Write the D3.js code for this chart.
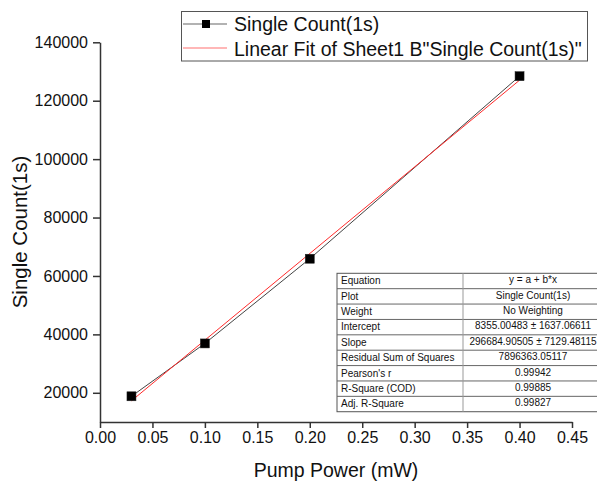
<!DOCTYPE html>
<html>
<head>
<meta charset="utf-8">
<script src="https://cdn.jsdelivr.net/npm/d3@7"></script>
<style>
  html, body { margin: 0; padding: 0; background: #fff; }
  svg { display: block; font-family: "Liberation Sans", Arial, sans-serif; }
</style>
</head>
<body>
<svg id="chart" width="597" height="482"></svg>
<script>
// ---- data ----
const pumpPower = [0.03, 0.10, 0.20, 0.40];
const singleCount = [18800, 36900, 65900, 128400];
const fitIntercept = 8355.00483;
const fitSlope = 296684.90505;
const xTicks = [0, 0.05, 0.10, 0.15, 0.20, 0.25, 0.30, 0.35, 0.40, 0.45];
const yTicks = [20000, 40000, 60000, 80000, 100000, 120000, 140000];
const legendLabels = ["Single Count(1s)", "Linear Fit of Sheet1 B\"Single Count(1s)\""];
const tableLabels = ["Equation", "Plot", "Weight", "Intercept", "Slope", "Residual Sum of Squares", "Pearson's r", "R-Square (COD)", "Adj. R-Square"];
const tableValues = ["y = a + b*x", "Single Count(1s)", "No Weighting", "8355.00483 \u00b1 1637.06611", "296684.90505 \u00b1 7129.48115", "7896363.05117", "0.99942", "0.99885", "0.99827"];

const svg = d3.select("#chart");
const x = d3.scaleLinear().domain([0, 0.45]).range([100, 572]);
const y = d3.scaleLinear().domain([10000, 140000]).range([422, 42.3]);
const axisColor = "#333";

// minor ticks
const xMinor = d3.range(0, 19).map(i => i * 0.025);
const yMinor = d3.range(0, 14).map(i => 10000 + i * 10000);

const gx = svg.append("g").attr("transform", "translate(0,422)");
gx.call(d3.axisBottom(x).tickValues(xMinor).tickSize(3.5).tickFormat("")).call(g => g.select(".domain").remove());
gx.call(d3.axisBottom(x).tickValues(xTicks).tickSize(6).tickSizeOuter(0).tickPadding(4).tickFormat(d3.format(".2f")));
gx.selectAll("line, path").attr("stroke", axisColor).attr("stroke-width", 1.5);
gx.selectAll("text").attr("font-size", 16).attr("fill", "#111").attr("font-family", "Liberation Sans, Arial, sans-serif");

const gy = svg.append("g").attr("transform", "translate(100,0)");
gy.call(d3.axisLeft(y).tickValues(yMinor).tickSize(3.5).tickFormat("")).call(g => g.select(".domain").remove());
gy.call(d3.axisLeft(y).tickValues(yTicks).tickSize(7).tickSizeOuter(0).tickPadding(5).tickFormat(d3.format("d")));
gy.selectAll("line, path").attr("stroke", axisColor).attr("stroke-width", 1.5);
gy.selectAll("text").attr("font-size", 16).attr("fill", "#111").attr("font-family", "Liberation Sans, Arial, sans-serif");

// axis titles
svg.append("text").attr("x", 336).attr("y", 477).attr("text-anchor", "middle")
  .attr("font-size", 19.5).attr("fill", "#111").text("Pump Power (mW)");
svg.append("text").attr("transform", "translate(27,232) rotate(-90)").attr("text-anchor", "middle")
  .attr("font-size", 20.5).attr("fill", "#111").text("Single Count(1s)");

// data line
const pts = pumpPower.map((p, i) => [p, singleCount[i]]);
svg.append("path").datum(pts)
  .attr("d", d3.line().x(d => x(d[0])).y(d => y(d[1])))
  .attr("fill", "none").attr("stroke", "#444").attr("stroke-width", 1);

// fit line
const xf = d3.extent(pumpPower);
const fitPts = xf.map(v => [v, fitIntercept + fitSlope * v]);
svg.append("path").datum(fitPts)
  .attr("d", d3.line().x(d => x(d[0])).y(d => y(d[1])))
  .attr("fill", "none").attr("stroke", "#ff2a2a").attr("stroke-width", 1);

// markers
svg.selectAll("rect.pt").data(pts).enter().append("rect").attr("class", "pt")
  .attr("x", d => x(d[0]) - 4.5).attr("y", d => y(d[1]) - 4.5)
  .attr("width", 9).attr("height", 9).attr("fill", "#000").attr("stroke", "#222").attr("stroke-width", 0.5);

// legend
const lg = svg.append("g");
lg.append("rect").attr("x", 181.5).attr("y", 11.5).attr("width", 406).attr("height", 49.5)
  .attr("fill", "#fff").attr("stroke", "#555").attr("stroke-width", 1);
lg.append("line").attr("x1", 183).attr("x2", 227).attr("y1", 24).attr("y2", 24).attr("stroke", "#999").attr("stroke-width", 1.5);
lg.append("rect").attr("x", 202).attr("y", 20).attr("width", 8).attr("height", 8).attr("fill", "#000");
lg.append("line").attr("x1", 183).attr("x2", 227).attr("y1", 48).attr("y2", 48).attr("stroke", "#ff7070").attr("stroke-width", 1.2);
legendLabels.forEach((t, i) => {
  lg.append("text").attr("x", 234).attr("y", 31 + i * 25).attr("font-size", 19.5).attr("fill", "#111").text(t);
});

// stats table
const tx0 = 337, tx1 = 463, tx2 = 603, ty0 = 273.3, rh = 15.38;
const tg = svg.append("g");
tg.append("rect").attr("x", tx0).attr("y", ty0).attr("width", tx2 - tx0).attr("height", rh * tableLabels.length)
  .attr("fill", "#fff").attr("stroke", "#555").attr("stroke-width", 1);
tableLabels.forEach((lab, i) => {
  if (i > 0) tg.append("line").attr("x1", tx0).attr("x2", tx2).attr("y1", ty0 + i * rh).attr("y2", ty0 + i * rh)
    .attr("stroke", "#666").attr("stroke-width", 1);
  tg.append("text").attr("x", tx0 + 4).attr("y", ty0 + i * rh + 11).attr("font-size", 10).attr("fill", "#111").text(lab);
  tg.append("text").attr("x", (tx1 + tx2) / 2).attr("y", ty0 + i * rh + 10).attr("text-anchor", "middle")
    .attr("font-size", 10).attr("fill", "#111").text(tableValues[i]);
});
tg.append("line").attr("x1", tx1).attr("x2", tx1).attr("y1", ty0).attr("y2", ty0 + rh * tableLabels.length)
  .attr("stroke", "#999").attr("stroke-width", 1);
</script>
</body>
</html>
